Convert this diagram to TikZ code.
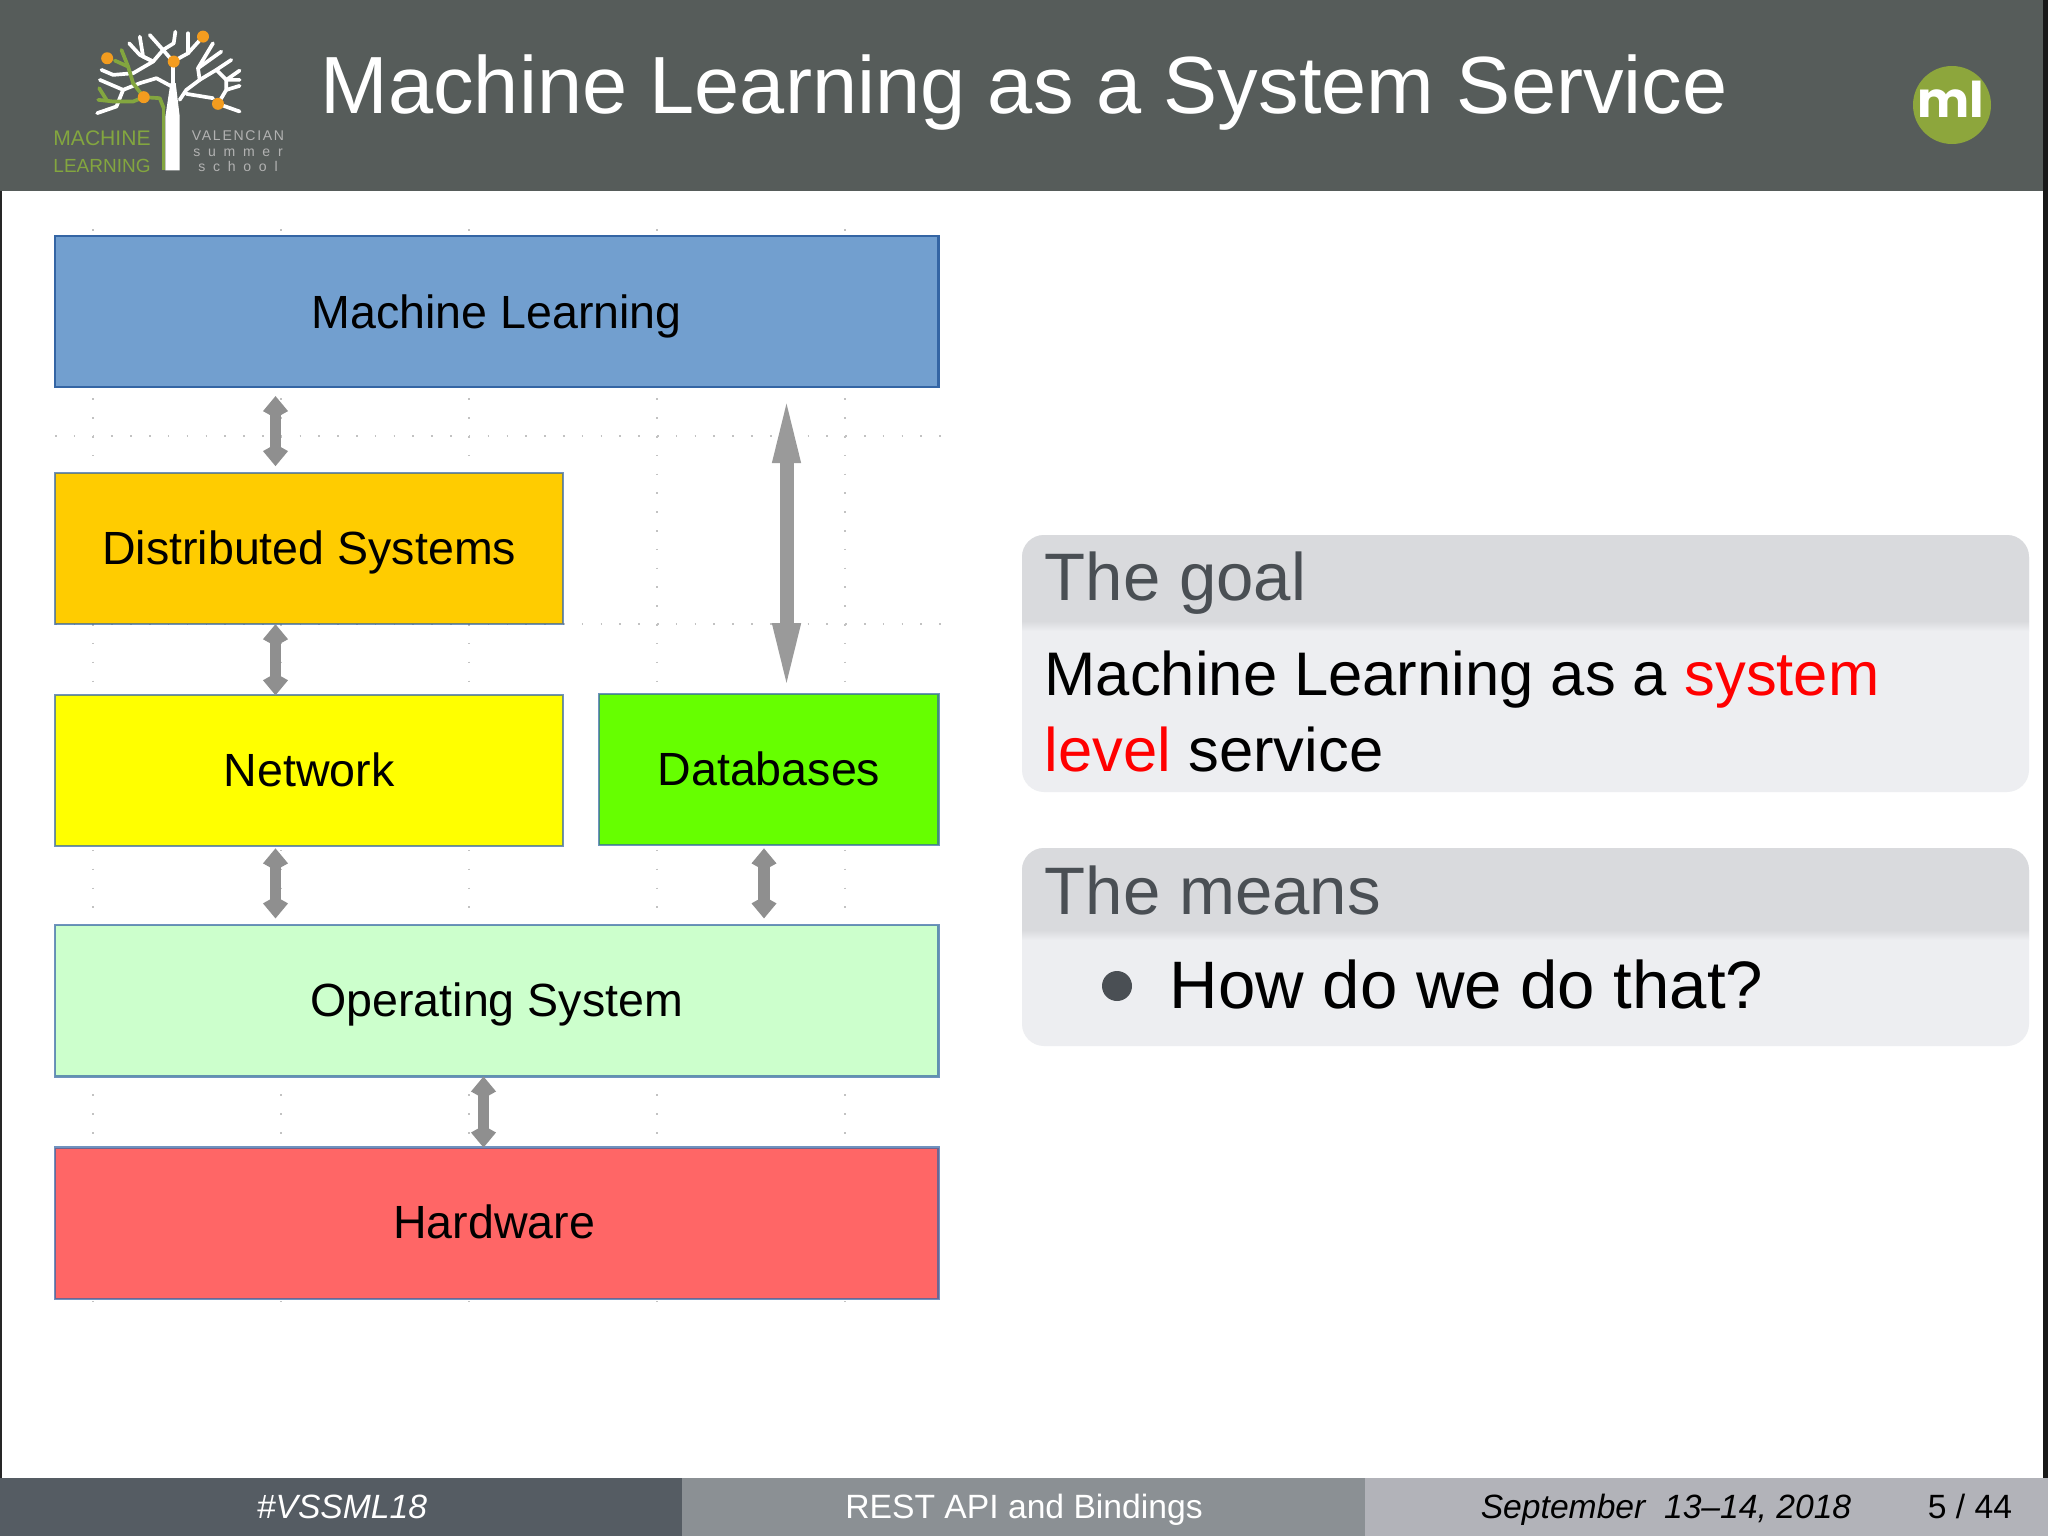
\documentclass[tikz,border=0pt]{standalone}
\usepackage{fontspec}
\usetikzlibrary{positioning,arrows.meta}
\setmainfont{Liberation Sans}
\newfontfamily\mlfont{Poppins}
\newfontfamily\logofont[LetterSpace=12]{Liberation Sans}
\newfontfamily\logowide[LetterSpace=55]{Liberation Sans}
\definecolor{headbar}{HTML}{565C5A}
\definecolor{foota}{HTML}{555C63}
\definecolor{footb}{HTML}{8B9094}
\definecolor{footc}{HTML}{B2B3B9}
\definecolor{mlblue}{HTML}{729FCF}
\definecolor{dsorange}{HTML}{FFCC00}
\definecolor{netyellow}{HTML}{FFFF00}
\definecolor{dbgreen}{HTML}{66FF00}
\definecolor{osgreen}{HTML}{CCFFCC}
\definecolor{hwred}{HTML}{FF6666}
\definecolor{boxline}{HTML}{3465A4}
\definecolor{blockhead}{HTML}{D9DADD}
\definecolor{blockbody}{HTML}{EDEEF1}
\definecolor{blocktext}{HTML}{4A4F54}
\definecolor{logogreen}{HTML}{83A63F}
\definecolor{logoorange}{HTML}{F39C1F}
\definecolor{mlolive}{HTML}{8DA63C}
\definecolor{arrowgray}{HTML}{8F8F8F}
\definecolor{redtext}{HTML}{FF0000}
\tikzset{
	stackbox/.style={draw=boxline,draw opacity=.7,line width=.6pt,inner sep=0pt,outer sep=0pt,
		minimum height=1.51cm,text height=.31cm,text depth=0pt,
		font=\fontsize{13.24}{16}\selectfont},
	griddots/.style={draw=black!24,line width=.45pt,dash pattern=on .45pt off 4.9pt},
	stackarrow/.style={<->,>={Kite[length=.22cm,width=.25cm,inset=.07cm]},draw=arrowgray,fill=arrowgray,line width=.115cm},
	longarrow/.style={<->,>={Triangle[length=.74cm,width=.24cm]},draw=arrowgray!90,fill=arrowgray!90,line width=.14cm},
	blockname/.style={anchor=base west,inner sep=0pt,text=blocktext,font=\fontsize{19.1}{23}\selectfont},
	blockline/.style={anchor=base west,inner sep=0pt,font=\fontsize{17.5}{21}\selectfont},
	footlabel/.style={anchor=base,inner sep=0pt,font=\fontsize{9.57}{12}\selectfont},
	logotree/.style={draw=white,line width=1.05pt,line cap=round,line join=round},
	logobranch/.style={draw=logogreen,line width=1.05pt,line cap=round,line join=round},
	logotext/.style={inner sep=0pt,anchor=base}
}
\begin{document}
\begin{tikzpicture}[x=.01cm,y=-.01cm]
	\useasboundingbox (0,0) rectangle (2048,1536);
	\fill[white] (0,0) rectangle (2048,1536);
	% frame and bars
	\fill[black!85] (0,0) rectangle (2,1480);
	\fill[black!90] (2043,0) rectangle (2048,1480);
	\fill[headbar] (0,0) rectangle (2043,191);
	\fill[foota] (0,1478) rectangle (682,1536);
	\fill[footb] (682,1478) rectangle (1365,1536);
	\fill[footc] (1365,1478) rectangle (2048,1536);
	\node[anchor=base west,inner sep=0pt,text=white,font=\fontsize{23.07}{28}\selectfont] (title) at (320,113) {Machine Learning as a System Service};
	\node[footlabel,text=white] (tag) at (342,1518) {\itshape \#VSSML18};
	\node[footlabel,text=white] (talk) at (1024,1518) {REST API and Bindings};
	\node[footlabel] (date) at (1666,1518) {\itshape September\ \ 13--14, 2018};
	\node[footlabel] (page) at (1970,1518) {5 / 44};
	% ml badge
	\fill[mlolive] (1952,105) circle[radius=39];
	\node[inner sep=0pt,text=white,font=\mlfont\bfseries\fontsize{14}{17}\selectfont] (mlmark) at (1951,99) {ml};
	% logo tree
	\begin{scope}[x=.00333cm,y=-.00333cm]
		\fill[white] (497,512) -- (497,350) -- (512,250) -- (528,250) -- (540,350) -- (540,512) -- cycle;
		\fill[logogreen] (487,320) rectangle (497,512);
		\draw[logotree] (520,295) -- (520,185) -- (565,160) -- (610,110);
		\draw[logotree] (520,185) -- (490,150) -- (450,105);
		\draw[logotree] (490,150) -- (522,130) -- (527,95);
		\draw[logotree] (490,150) -- (460,185) -- (430,170) -- (420,110);
		\draw[logotree] (460,185) -- (420,165) -- (388,130);
		\draw[logotree] (460,185) -- (400,220) -- (340,225) -- (305,210);
		\draw[logotree] (520,262) -- (470,235) -- (420,250) -- (370,270) -- (300,240);
		\draw[logotree] (370,270) -- (350,320) -- (292,340);
		\draw[logotree] (540,300) -- (560,270) -- (600,240) -- (595,205) -- (640,130);
		\draw[logotree] (565,160) -- (565,100);
		\draw[logotree] (595,205) -- (665,155);
		\draw[logotree] (600,240) -- (650,210) -- (695,180);
		\draw[logotree] (650,210) -- (680,240) -- (720,240);
		\draw[logotree] (680,240) -- (720,212);
		\draw[logotree] (680,270) -- (720,258);
		\draw[logotree] (655,312) -- (680,270) -- (680,240);
		\draw[logotree] (655,312) -- (720,335);
		\draw[logotree] (560,282) -- (640,295);
		\draw[logobranch] (492,325) -- (480,295) -- (432,292) -- (400,305) -- (340,305) -- (295,300);
		\draw[logobranch] (320,300) -- (298,265);
		\draw[logobranch] (432,292) -- (400,250) -- (385,200) -- (365,150);
		\draw[logobranch] (385,200) -- (345,182);
		\foreach \ox/\oy in {322/175,432/292,522/185,610/110,655/312}
			\fill[logoorange] (\ox,\oy) circle[radius=18];
	\end{scope}
	\node[logotext,text=logogreen,font=\fontsize{6}{7}\selectfont] (logoa) at (102,145) {MACHINE};
	\node[logotext,text=logogreen,font=\fontsize{5.4}{7}\selectfont] (logob) at (102,172) {LEARNING};
	\node[logotext,text=black!30,font=\logofont\fontsize{4}{5}\selectfont] (logoc) at (238,140) {VALENCIAN};
	\node[logotext,text=black!30,font=\logowide\fontsize{4}{5}\selectfont] (logod) at (238,156) {summer};
	\node[logotext,text=black!30,font=\logowide\fontsize{4}{5}\selectfont] (logoe) at (238,171) {school};
	% faint grid behind the stack
	\foreach \gridx in {93,281,469,657,845}
		\draw[griddots] (\gridx,229) -- (\gridx,1302);
	\foreach \gridy in {436,624}
		\draw[griddots] (55,\gridy) -- (941,\gridy);
	% stack
	\node[stackbox,fill=mlblue,draw opacity=1,text height=.33cm,minimum width=8.83cm,anchor=north west] (ml) at (55,236) {Machine Learning};
	\node[stackbox,fill=dsorange,minimum width=5.08cm,below=.86cm of ml.south west,anchor=north west] (ds) {Distributed Systems};
	\node[stackbox,fill=netyellow,minimum width=5.08cm,below=.71cm of ds.south west,anchor=north west] (net) {Network};
	\node[stackbox,fill=dbgreen,minimum width=3.39cm,right=.36cm of net.north east,anchor=north west,yshift=.01cm] (db) {Databases};
	\node[stackbox,fill=osgreen,minimum width=8.83cm,below=.79cm of net.south west,anchor=north west] (os) {Operating System};
	\node[stackbox,fill=hwred,minimum width=8.83cm,below=.71cm of os.south west,anchor=north west] (hw) {Hardware\hspace*{.05cm}};
	\coordinate (xleft) at (275.5,0);
	\coordinate (xdb) at (764,0);
	\coordinate (xos) at (483.5,0);
	\coordinate (xlong) at (786.5,0);
	\draw[stackarrow,shorten <=.09cm,shorten >=.07cm] (ml.south -| xleft) -- (ds.north -| xleft);
	\draw[stackarrow] (ds.south -| xleft) -- (net.north -| xleft);
	\draw[stackarrow,shorten <=.02cm,shorten >=.07cm] (net.south -| xleft) -- (os.north -| xleft);
	\draw[stackarrow,shorten <=.03cm,shorten >=.07cm] (db.south -| xdb) -- (os.north -| xdb);
	\draw[stackarrow] (os.south -| xos) -- (hw.north -| xos);
	\draw[longarrow,shorten <=.02cm,shorten >=-.03cm] (ml.south -| xlong) -- (db.north -| xlong);
	% blocks
	\fill[blockbody,rounded corners=.22cm] (1022,535) rectangle (2029,792);
	\fill[blockhead] (1022,621) [rounded corners=.22cm] -- (1022,535) -- (2029,535) [sharp corners] -- (2029,621) -- cycle;
	\shade[top color=blockhead,bottom color=blockbody] (1022,621) rectangle (2029,631);
	\node[blockname] (goalhead) at (1044,600) {The goal};
	\node[blockline] (goala) at (1044,695) {Machine Learning as a \textcolor{redtext}{system}};
	\node[blockline] (goalb) at (1044,771) {\textcolor{redtext}{level} service};
	\fill[blockbody,rounded corners=.22cm] (1022,848) rectangle (2029,1046);
	\fill[blockhead] (1022,930) [rounded corners=.22cm] -- (1022,848) -- (2029,848) [sharp corners] -- (2029,930) -- cycle;
	\shade[top color=blockhead,bottom color=blockbody] (1022,930) rectangle (2029,940);
	\node[blockname] (meanshead) at (1044,914) {The means};
	\fill[blocktext] (1117,986) circle[radius=15];
	\node[blockname,text=black] (meansa) at (1169,1008) {How do we do that?};
\end{tikzpicture}
\end{document}
